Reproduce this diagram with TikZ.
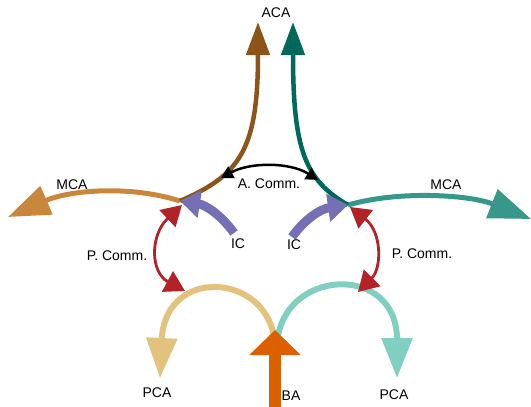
\documentclass[tikz,border=0pt]{standalone}
\usepackage{fontspec}
\setmainfont{Liberation Sans}
\usetikzlibrary{arrows.meta}
\definecolor{acaL}{HTML}{8C5416}
\definecolor{mcaL}{HTML}{C8873A}
\definecolor{acaR}{HTML}{00695C}
\definecolor{mcaR}{HTML}{36978A}
\definecolor{icc}{HTML}{7570B3}
\definecolor{pcc}{HTML}{B22226}
\definecolor{pcaL}{HTML}{E3C27E}
\definecolor{pcaR}{HTML}{80CFC1}
\definecolor{bac}{HTML}{DD6000}
\begin{document}
\begin{tikzpicture}[x=1pt,y=-1pt,
  lbl/.style={font=\fontsize{14}{16}\selectfont, inner sep=0pt},
  acastyle/.style={line width=4.5pt, -{Triangle[length=33pt,width=23pt]}},
  mcastyle/.style={line width=5pt, -{Triangle[length=42pt,width=30pt]}},
  pcastyle/.style={line width=6pt, -{Triangle[length=40pt,width=30pt]}},
  icstyle/.style={line width=9pt, draw=icc, -{Triangle[length=20pt,width=27pt]}},
  pcomm/.style={line width=2.8pt, draw=pcc, {Triangle[length=20pt,width=23pt]}-{Triangle[length=20pt,width=23pt]}},
  acomm/.style={line width=2.5pt, draw=black, {Triangle[length=12pt,width=13pt]}-{Triangle[length=12pt,width=13pt]}},
  bastyle/.style={line width=12pt, draw=bac, -{Triangle[length=25pt,width=50pt]}}]
\useasboundingbox (0,0) rectangle (531,407);
\coordinate (L) at (180,201);
\coordinate (R) at (348,205);
\coordinate (acaLtip) at (258,22);
\coordinate (acaRtip) at (293,22);
\coordinate (mcaLtip) at (8,217);
\coordinate (mcaRtip) at (531,219);
\coordinate (icLs) at (234,233);
\coordinate (icRs) at (292,237);
\coordinate (pcLa) at (182,205);
\coordinate (pcLb) at (185,291);
\coordinate (pcRa) at (350,207);
\coordinate (pcRb) at (358,292);
\coordinate (acA) at (221,178);
\coordinate (acB) at (318,180);
\coordinate (pcaLs) at (274,336);
\coordinate (pcaRs) at (278,336);
\coordinate (pcaLtip) at (160,378);
\coordinate (pcaRtip) at (397,378);
\coordinate (bas) at (275,410);
\coordinate (batip) at (275,330);
% PCA
\draw[pcastyle, draw=pcaL] (pcaLs) .. controls (262,272) and (165,268) .. (pcaLtip);
\draw[pcastyle, draw=pcaR] (pcaRs) .. controls (290,268) and (397,265) .. (pcaRtip);
% BA
\draw[bastyle] (bas) -- (batip);
% MCA
\draw[mcastyle, draw=mcaL] (L) .. controls (130,185) and (70,190) .. (mcaLtip);
\draw[mcastyle, draw=mcaR] (R) .. controls (400,190) and (470,195) .. (mcaRtip);
% ACA
\draw[acastyle, draw=acaL] (L) .. controls (240,175) and (258,150) .. (acaLtip);
\draw[acastyle, draw=acaR] (R) .. controls (305,180) and (293,150) .. (acaRtip);
% IC
\draw[icstyle] (icLs) .. controls (222,216) and (206,205) .. (L);
\draw[icstyle] (icRs) .. controls (304,220) and (320,209) .. (R);
% comms
\draw[acomm] (acA) .. controls (250,162) and (290,162) .. (acB);
\draw[pcomm] (pcLa) .. controls (150,235) and (150,272) .. (pcLb);
\draw[pcomm] (pcRa) .. controls (382,232) and (382,268) .. (pcRb);
% labels
\node[lbl] (tACA) at (276,13) {ACA};
\node[lbl] (tMCAL) at (72,185) {MCA};
\node[lbl] (tMCAR) at (446,185) {MCA};
\node[lbl] (tICL) at (238,244) {IC};
\node[lbl] (tICR) at (294,245) {IC};
\node[lbl] (tPCL) at (117,256) {P. Comm.};
\node[lbl] (tPCR) at (422,254) {P. Comm.};
\node[lbl, fill=white, inner sep=1pt] (tAC) at (269,184) {A. Comm.};
\node[lbl] (tPCAL) at (157,393) {PCA};
\node[lbl] (tPCAR) at (394,395) {PCA};
\node[lbl] (tBA) at (291,396) {BA};
\end{tikzpicture}
\end{document}
